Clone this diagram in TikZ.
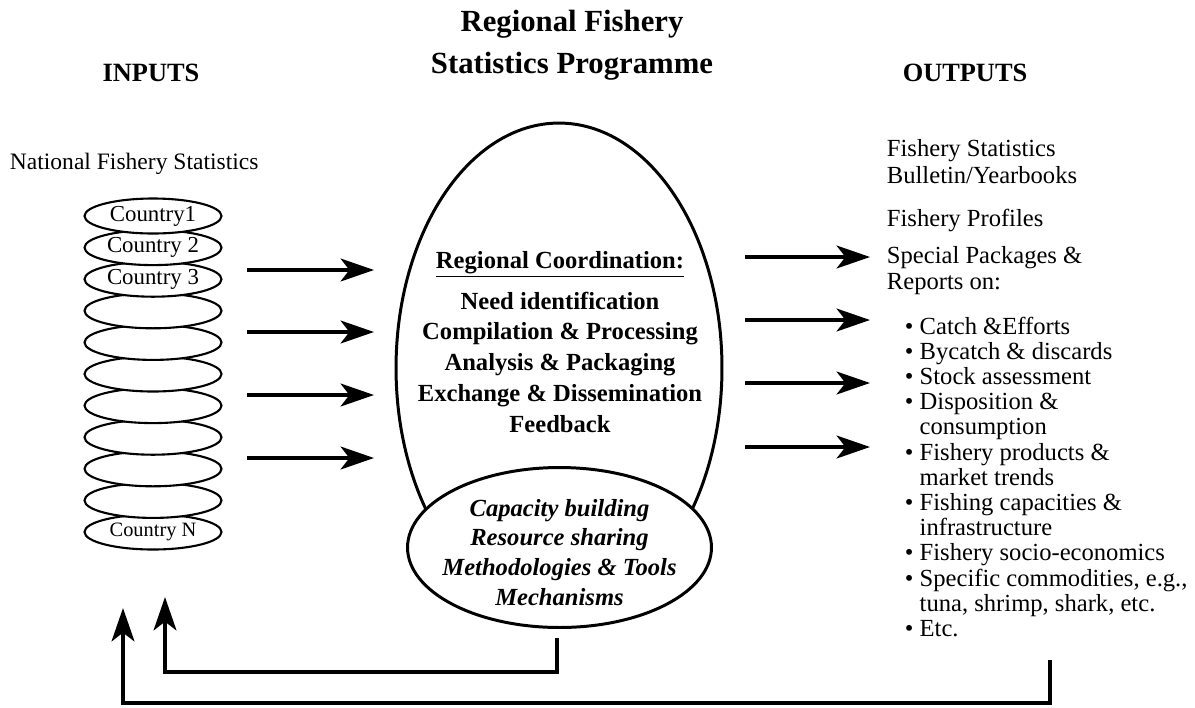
\documentclass[tikz,border=0pt]{standalone}
\usepackage{fontspec}
\setmainfont{Liberation Serif}
\usetikzlibrary{arrows.meta}
\usetikzlibrary{shapes.geometric,positioning}

\begin{document}
\begin{tikzpicture}[->,>={Stealth[length=19pt,width=13pt,inset=5pt]},
                    line width=2.2pt,x=0.02cm,y=-0.02cm]
  \tikzstyle{country}=[draw,ellipse,fill=white,line width=1.2pt,
                       minimum width=2.74cm,minimum height=0.7cm,inner sep=0pt]
  \tikzstyle{blob}=[draw,ellipse,line width=1.7pt,inner sep=0pt]
  \tikzstyle{title}=[font=\bfseries\fontsize{17.5}{20}\selectfont,inner sep=0pt,
                     text height=12pt,text depth=2pt]
  \tikzstyle{head}=[font=\bfseries\fontsize{15}{18}\selectfont,inner sep=0pt,
                    text height=11pt,text depth=0pt]
  \tikzstyle{txt}=[font=\fontsize{14}{14.35}\selectfont,inner sep=0pt,
                   text height=10pt,text depth=3pt]
  \tikzstyle{ctxt}=[font=\fontsize{13}{13}\selectfont,inner sep=0pt]
  \tikzstyle{btxt}=[font=\bfseries\fontsize{14}{17.6}\selectfont,inner sep=0pt]
  \tikzstyle{itxt}=[font=\bfseries\itshape\fontsize{14}{17}\selectfont,inner sep=0pt]

  \useasboundingbox (0,0) rectangle (1195,707);

  % headings
  \node[title] (ttl1) at (572,23) {Regional Fishery};
  \node[title] (ttl2) at (572,65) {Statistics Programme};
  \node[head]  (inputs)  at (151,72) {INPUTS};
  \node[head]  (outputs) at (965,72) {OUTPUTS};

  % inputs
  \node[txt,anchor=west,font=\fontsize{13.4}{14}\selectfont] (natstat) at (8,163)
       {National Fishery Statistics};
  \foreach \n in {11,10,...,1}
    \node[country] (c\n) at (153,{216+31.6*(\n-1)}) {};
  \node[ctxt] (l1) at (c1) {Country1};
  \node[ctxt] (l2) at (c2) {Country 2};
  \node[ctxt] (l3) at (c3) {Country 3};
  \node[ctxt,font=\fontsize{11.6}{12}\selectfont] (lN) at (c11) {Country N};

  \foreach \y [count=\i] in {270,332,395,458} {
    \coordinate (in\i) at (247,\y);
    \coordinate (inend\i) at (374,\y);
    \draw (in\i) -- (inend\i);
  }

  % programme
  \node[blob,minimum width=6.52cm,minimum height=9.8cm] (prog) at (559,368) {};
  \node[blob,fill=white,minimum width=6.08cm,minimum height=3.2cm] (tools) at (559.5,547.5) {};
  \node[btxt,text height=10pt,text depth=3pt] (rc) at (560,262) {\underline{Regional Coordination:}};
  \node[btxt,anchor=base] (tasks) at (560,309)
       {\begin{tabular}[t]{@{}c@{}}
        Need identification\\
        Compilation \& Processing\\
        Analysis \& Packaging\\
        Exchange \& Dissemination\\
        Feedback
        \end{tabular}};
  \node[itxt,anchor=base] (means) at (559.5,516)
       {\begin{tabular}[t]{@{}c@{}}
        Capacity building\\
        Resource sharing\\
        Methodologies \& Tools\\
        Mechanisms
        \end{tabular}};

  \foreach \y [count=\i] in {257,320,383,447} {
    \coordinate (out\i) at (745,\y);
    \coordinate (outend\i) at (870,\y);
    \draw (out\i) -- (outend\i);
  }

  % outputs
  \node[txt,anchor=west] (fstat) at (885,150) {Fishery Statistics};
  \node[txt,below=0.54cm of fstat.west,anchor=west] (bulletin) {Bulletin/Yearbooks};
  \node[txt,anchor=west] (profiles) at (885,220) {Fishery Profiles};
  \node[txt,anchor=west] (special) at (885,257) {Special Packages \&};
  \node[txt,below=0.52cm of special.west,anchor=west] (reports) {Reports on:};
  \node[txt,anchor=base west,text height=,text depth=] (topics) at (903,334)
       {\begin{tabular}[t]{@{}l@{\ }l@{}}
        \textbullet & Catch \&Efforts\\
        \textbullet & Bycatch \& discards\\
        \textbullet & Stock assessment\\
        \textbullet & Disposition \&\\
                    & consumption\\
        \textbullet & Fishery products \&\\
                    & market trends\\
        \textbullet & Fishing capacities \&\\
                    & infrastructure\\
        \textbullet & Fishery socio-economics\\
        \textbullet & Specific commodities, e.g.,\\
                    & tuna, shrimp, shark, etc.\\
        \textbullet & Etc.
        \end{tabular}};

  % feedback
  \coordinate (fb1) at (557,638);
  \coordinate (fb2) at (1050,660);
  \coordinate (tip1) at (165,597);
  \coordinate (tip2) at (123,608);
  \draw (fb1) -- ++(0,34) -| (tip1);
  \draw (fb2) -- ++(0,43) -| (tip2);
\end{tikzpicture}
\end{document}
